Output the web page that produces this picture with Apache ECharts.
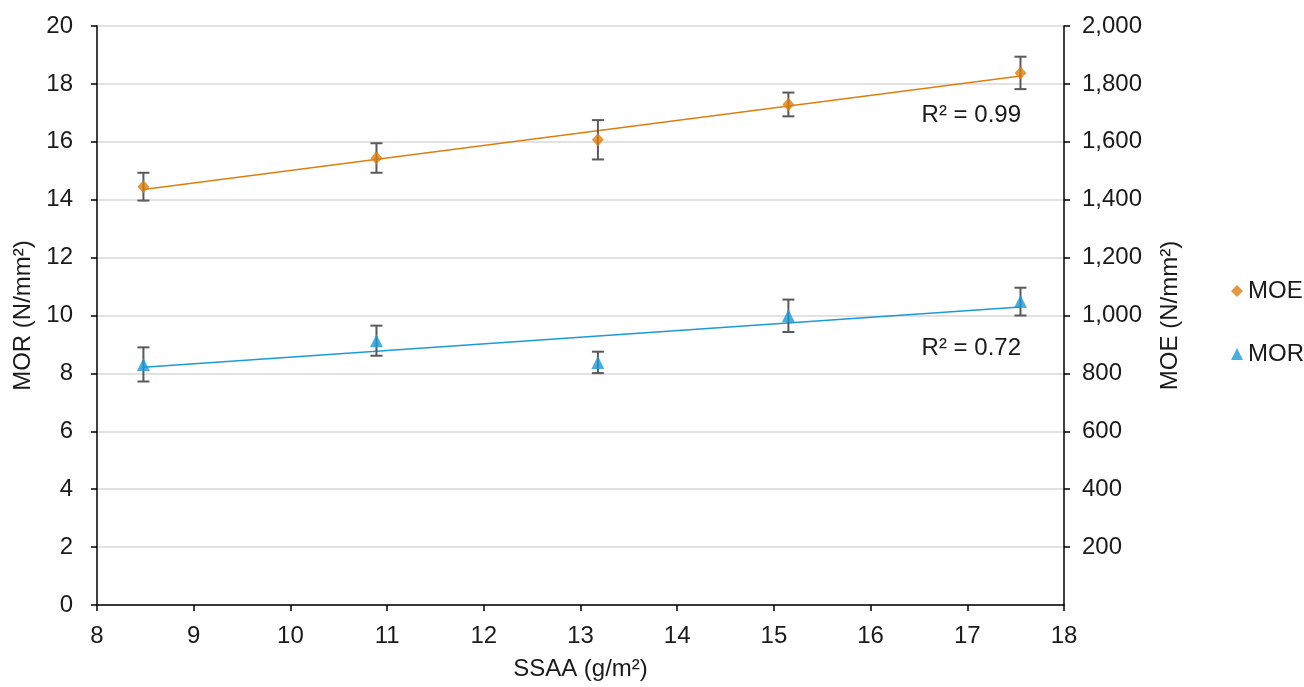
<!DOCTYPE html>
<html>
<head>
<meta charset="utf-8">
<script src="https://cdn.jsdelivr.net/npm/echarts@6/dist/echarts.min.js"></script>
<style>
  html, body { margin: 0; padding: 0; background: #fff; }
  #chart { width: 1304px; height: 687px; }
</style>
</head>
<body>
<div id="chart"></div>
<script>
// SSAA levels (g/m²)
const ssaa = [8.48, 10.89, 13.18, 15.15, 17.55];
// Modulus of elasticity (N/mm²) and its standard deviation
const moeValues = [1445, 1544, 1607, 1729, 1838];
const moeErrors = [48, 51, 68, 41, 56];
// Modulus of rupture (N/mm²) and its standard deviation
const morValues = [8.31, 9.13, 8.38, 9.99, 10.48];
const morErrors = [0.59, 0.52, 0.37, 0.56, 0.48];
// Coefficients of determination of the linear fits
const moeR2 = 'R² = 0.99';
const morR2 = 'R² = 0.72';

const ORANGE = '#DC7E10';
const BLUE = '#1C9AD6';
const BAR = '#595959';
const FONT = 'Liberation Sans, Arial, sans-serif';

// Least-squares straight line through the points, spanning the x range
function linearFit(xs, ys) {
  const n = xs.length;
  const mx = xs.reduce((a, b) => a + b, 0) / n;
  const my = ys.reduce((a, b) => a + b, 0) / n;
  let sxy = 0, sxx = 0;
  for (let i = 0; i < n; i++) {
    sxy += (xs[i] - mx) * (ys[i] - my);
    sxx += (xs[i] - mx) * (xs[i] - mx);
  }
  const slope = sxy / sxx;
  const icpt = my - slope * mx;
  const x0 = Math.min(...xs), x1 = Math.max(...xs);
  return [[x0, icpt + slope * x0], [x1, icpt + slope * x1]];
}

function errorBarSeries(values, errors, yAxisIndex) {
  return {
    type: 'custom',
    yAxisIndex: yAxisIndex,
    silent: true,
    z: 3,
    data: ssaa.map((x, i) => [x, values[i] - errors[i], values[i] + errors[i]]),
    renderItem: function (params, api) {
      const lo = api.coord([api.value(0), api.value(1)]);
      const hi = api.coord([api.value(0), api.value(2)]);
      const hw = 6;
      const style = { stroke: BAR, lineWidth: 2, fill: null };
      return {
        type: 'group',
        children: [
          { type: 'line', shape: { x1: lo[0], y1: lo[1], x2: hi[0], y2: hi[1] }, style: style },
          { type: 'line', shape: { x1: lo[0] - hw, y1: lo[1], x2: lo[0] + hw, y2: lo[1] }, style: style },
          { type: 'line', shape: { x1: hi[0] - hw, y1: hi[1], x2: hi[0] + hw, y2: hi[1] }, style: style }
        ]
      };
    }
  };
}

const chart = echarts.init(document.getElementById('chart'), null, { renderer: 'canvas' });

const axisText = { color: '#1a1a1a', fontSize: 24, fontFamily: FONT };
const nameText = { color: '#1a1a1a', fontSize: 24, fontFamily: FONT };

chart.setOption({
  backgroundColor: '#fff',
  animation: false,
  grid: { left: 97, right: 240, top: 26, bottom: 82, containLabel: false },
  legend: {
    data: [
      { name: 'MOE', icon: 'diamond', itemStyle: { color: ORANGE } },
      { name: 'MOR', icon: 'triangle', itemStyle: { color: BLUE } }
    ],
    orient: 'vertical',
    left: 1226,
    top: 274,
    itemWidth: 12,
    itemHeight: 12,
    itemGap: 39,
    textStyle: { color: '#1a1a1a', fontSize: 24, fontFamily: FONT }
  },
  xAxis: {
    type: 'value',
    min: 8, max: 18, interval: 1,
    name: 'SSAA (g/m²)',
    nameLocation: 'middle',
    nameGap: 52,
    nameTextStyle: nameText,
    axisLine: { lineStyle: { color: '#000', width: 1.5 } },
    axisTick: { show: true, length: 6, lineStyle: { color: '#000', width: 1.5 } },
    axisLabel: Object.assign({ margin: 19 }, axisText),
    splitLine: { show: false }
  },
  yAxis: [
    {
      type: 'value',
      min: 0, max: 20, interval: 2,
      position: 'left',
      name: 'MOR (N/mm²)',
      nameLocation: 'middle',
      nameGap: 57,
      nameTextStyle: nameText,
      axisLine: { show: true, lineStyle: { color: '#000', width: 1.5 } },
      axisTick: { show: true, length: 6, lineStyle: { color: '#000', width: 1.5 } },
      axisLabel: Object.assign({ margin: 24 }, axisText),
      splitLine: { show: true, lineStyle: { color: '#d9d9d9', width: 1.5 } }
    },
    {
      type: 'value',
      min: 0, max: 2000, interval: 200,
      position: 'right',
      name: 'MOE (N/mm²)',
      nameLocation: 'middle',
      nameGap: 94,
      nameTextStyle: nameText,
      axisLine: { show: true, lineStyle: { color: '#000', width: 1.5 } },
      axisTick: { show: true, length: 6, lineStyle: { color: '#000', width: 1.5 } },
      axisLabel: Object.assign({
        margin: 18,
        showMinLabel: false,
        formatter: v => v.toLocaleString('en-US')
      }, axisText),
      splitLine: { show: false }
    }
  ],
  series: [
    {
      name: 'MOE trend',
      type: 'line',
      yAxisIndex: 1,
      data: linearFit(ssaa, moeValues),
      showSymbol: false,
      silent: true,
      z: 2,
      lineStyle: { color: ORANGE, width: 1.5 }
    },
    {
      name: 'MOR trend',
      type: 'line',
      yAxisIndex: 0,
      data: linearFit(ssaa, morValues),
      showSymbol: false,
      silent: true,
      z: 2,
      lineStyle: { color: BLUE, width: 1.5 }
    },
    errorBarSeries(moeValues, moeErrors, 1),
    errorBarSeries(morValues, morErrors, 0),
    {
      name: 'MOE',
      type: 'scatter',
      yAxisIndex: 1,
      symbol: 'diamond',
      symbolSize: [12, 13],
      z: 4,
      itemStyle: { color: ORANGE },
      data: ssaa.map((x, i) => [x, moeValues[i]])
    },
    {
      name: 'MOR',
      type: 'scatter',
      yAxisIndex: 0,
      symbol: 'triangle',
      symbolSize: [13, 13],
      z: 4,
      itemStyle: { color: BLUE },
      data: ssaa.map((x, i) => [x, morValues[i]])
    }
  ],
  graphic: [
    {
      type: 'text', right: 1304 - 1021, top: 103, z: 10,
      style: { text: moeR2, fill: '#1a1a1a', fontSize: 24, fontFamily: FONT }
    },
    {
      type: 'text', right: 1304 - 1021, top: 336, z: 10,
      style: { text: morR2, fill: '#1a1a1a', fontSize: 24, fontFamily: FONT }
    }
  ]
});
</script>
</body>
</html>
